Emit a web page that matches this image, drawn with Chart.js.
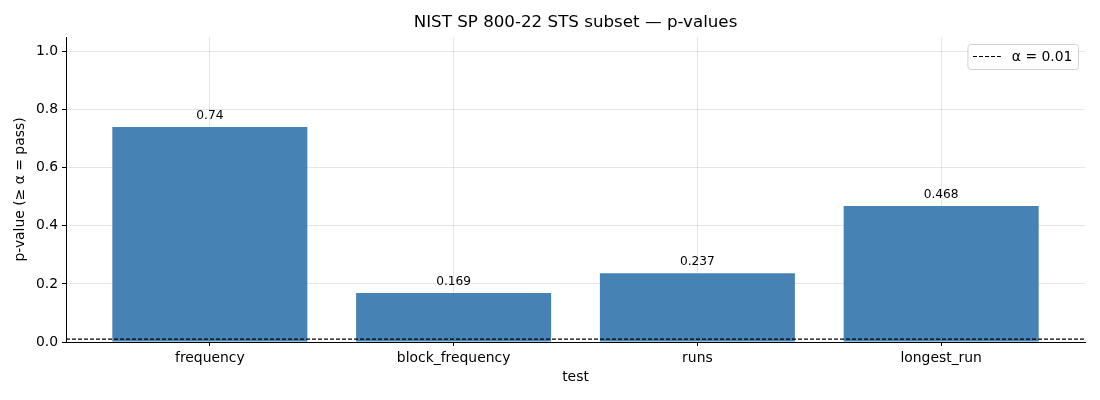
<!DOCTYPE html>
<html>
<head>
<meta charset="utf-8">
<script src="https://cdn.jsdelivr.net/npm/chart.js@4.4.1/dist/chart.umd.min.js"></script>
<style>
  html, body { margin: 0; padding: 0; background: #fff; }
  #wrap { width: 1100px; height: 400px; position: relative; }
</style>
</head>
<body>
<div id="wrap"><canvas id="chart"></canvas></div>
<script>
// p-values
const TESTS = ['frequency', 'block_frequency', 'runs', 'longest_run'];
const P_VALUES = [0.74, 0.169, 0.237, 0.468];
const P_LABELS = ['0.74', '0.169', '0.237', '0.468'];
const ALPHA = 0.01;
const Y_TICKS = [0, 0.2, 0.4, 0.6, 0.8, 1.0];

const FONT = "'DejaVu Sans', 'Liberation Sans', sans-serif";
const BAR_COLOUR = '#4682B4';
const GRID_COLOUR = 'rgba(176,176,176,0.3)';
const AXIS_FONT = { size: 13.9, family: FONT };

Chart.defaults.color = '#000';
Chart.defaults.font.family = FONT;

// title, bar labels and legend drawn on top, matplotlib style
const overlay = {
  id: 'overlay',
  afterDraw(chart) {
    const { ctx, chartArea } = chart;
    ctx.save();

    ctx.fillStyle = '#000';
    ctx.font = '16.7px ' + FONT;
    ctx.textAlign = 'center';
    ctx.textBaseline = 'middle';
    ctx.fillText('NIST SP 800-22 STS subset — p-values', (chartArea.left + chartArea.right) / 2, 23);

    const meta = chart.getDatasetMeta(1);
    ctx.font = '12.2px ' + FONT;
    ctx.textBaseline = 'alphabetic';
    meta.data.forEach((bar, i) => {
      ctx.fillText(P_LABELS[i], bar.x, bar.y - 8);
    });

    // legend box
    ctx.font = '13.9px ' + FONT;
    const text = 'α = ' + ALPHA;
    const tw = ctx.measureText(text).width;
    const w = 5.6 + 27.8 + 11 + tw + 5.6;
    const h = 25;
    const x = chartArea.right - 7 - w;
    const y = chartArea.top + 7;
    ctx.beginPath();
    ctx.roundRect(x + 0.5, y + 0.5, w, h, 3);
    ctx.fillStyle = 'rgba(255,255,255,0.85)';
    ctx.fill();
    ctx.strokeStyle = '#d0d0d0';
    ctx.lineWidth = 1;
    ctx.stroke();

    ctx.beginPath();
    ctx.setLineDash([4, 2]);
    ctx.strokeStyle = '#000';
    ctx.moveTo(x + 5.6, y + 12.5);
    ctx.lineTo(x + 5.6 + 27.8, y + 12.5);
    ctx.stroke();
    ctx.setLineDash([]);

    ctx.fillStyle = '#000';
    ctx.textAlign = 'left';
    ctx.textBaseline = 'middle';
    ctx.fillText(text, x + 5.6 + 27.8 + 11, y + 13);
    ctx.restore();
  }
};

// bars sit at x = 0..n-1, with matplotlib's 5% margin around the 0.8-wide bars
const X_MIN = -0.4 - 0.05 * (TESTS.length - 1 + 0.8);
const X_MAX = TESTS.length - 1 + 0.4 + 0.05 * (TESTS.length - 1 + 0.8);

new Chart(document.getElementById('chart'), {
  type: 'bar',
  data: {
    datasets: [
      {
        type: 'line',
        label: 'α = ' + ALPHA,
        data: [{ x: X_MIN, y: ALPHA }, { x: X_MAX, y: ALPHA }],
        borderColor: '#000',
        borderWidth: 1.1,
        borderDash: [4, 2],
        pointRadius: 0,
        fill: false,
        order: 0,
      },
      {
        label: 'p-value',
        data: P_VALUES.map((v, i) => ({ x: i, y: v })),
        backgroundColor: BAR_COLOUR,
        borderWidth: 0,
        barPercentage: 1.0,
        categoryPercentage: 0.8,
        order: 1,
      },
    ],
  },
  options: {
    responsive: true,
    maintainAspectRatio: false,
    animation: false,
    layout: { padding: { top: 37, right: 15, left: 0, bottom: 0 } },
    plugins: {
      legend: { display: false },
      title: { display: false },
      tooltip: { enabled: false },
    },
    scales: {
      x: {
        type: 'linear',
        min: X_MIN,
        max: X_MAX,
        offset: false,
        z: 1,
        afterBuildTicks: (scale) => { scale.ticks = TESTS.map((_, i) => ({ value: i })); },
        afterFit: (scale) => { scale.height = 58; },
        ticks: {
          callback: (v) => TESTS[v] ?? '',
          font: AXIS_FONT,
          padding: 4,
          maxRotation: 0,
          autoSkip: false,
        },
        grid: { offset: false, color: GRID_COLOUR, tickColor: '#000', tickLength: 4, lineWidth: 1 },
        border: { color: '#000', width: 1 },
        title: {
          display: true,
          text: 'test',
          font: AXIS_FONT,
          padding: { top: 0, bottom: 14.5 },
        },
      },
      y: {
        min: 0,
        max: 1.05,
        z: 1,
        afterBuildTicks: (scale) => { scale.ticks = Y_TICKS.map(v => ({ value: v })); },
        afterFit: (scale) => { scale.width = 66; },
        ticks: {
          callback: (v) => v.toFixed(1),
          font: AXIS_FONT,
          padding: 4,
        },
        grid: { color: GRID_COLOUR, tickColor: '#000', tickLength: 4, lineWidth: 1 },
        border: { color: '#000', width: 1 },
        title: {
          display: true,
          text: 'p-value (≥ α = pass)',
          font: AXIS_FONT,
          padding: { top: 12.5, bottom: 0 },
        },
      },
    },
  },
  plugins: [overlay],
});
</script>
</body>
</html>
